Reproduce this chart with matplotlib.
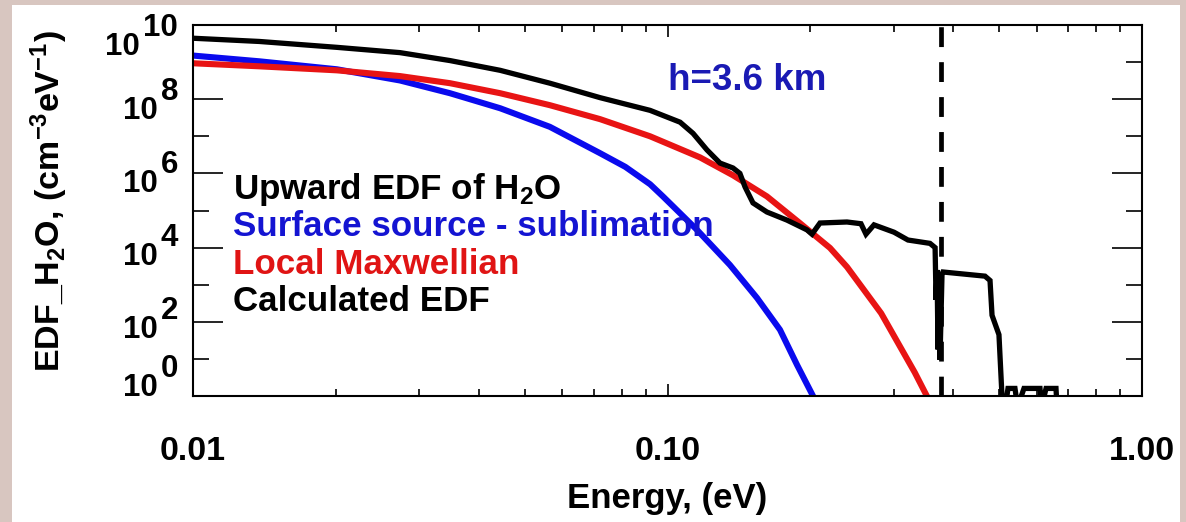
import matplotlib
matplotlib.use("Agg")
import matplotlib.pyplot as plt
import matplotlib.transforms as mtransforms
from matplotlib.patches import Rectangle
from matplotlib.ticker import FixedLocator, FixedFormatter, NullFormatter

# ---- data (energy in eV, EDF in cm^-3 eV^-1) ----
energy_surface = [0.0100, 0.0138, 0.0201, 0.0273, 0.0348, 0.0444, 0.0565, 0.0721,
                  0.0815, 0.0919, 0.0978, 0.1027, 0.1154, 0.1354, 0.1544, 0.1726,
                  0.1875, 0.2026, 0.2100]
edf_surface = [1.5e9, 1.05e9, 6.4e8, 3.2e8, 1.45e8, 5.7e7, 1.8e7, 3.5e6,
               1.5e6, 5.1e5, 2.4e5, 1.3e5, 3.0e4, 3.4e3, 4.4e2, 61,
               6.9, 1.0, 0.4]

energy_maxw = [0.0100, 0.0138, 0.0201, 0.0273, 0.0348, 0.0444, 0.0565, 0.0721,
               0.0919, 0.1171, 0.1374, 0.1620, 0.1900, 0.2200, 0.2390, 0.2820,
               0.3320, 0.3520, 0.3600]
edf_maxw = [9.3e8, 7.7e8, 6.0e8, 4.2e8, 2.7e8, 1.45e8, 6.9e7, 2.9e7,
            1.0e7, 2.7e6, 8.9e5, 2.4e5, 4.6e4, 9.8e3, 3.0e3, 1.7e2,
            4.3, 1.0, 0.5]

energy_calc = [0.0100, 0.0138, 0.0201, 0.0273, 0.0348, 0.0444, 0.0565, 0.0721,
               0.0919, 0.1063, 0.1132, 0.1211, 0.1290, 0.1374, 0.1421, 0.1457,
               0.1514, 0.1620, 0.1786, 0.1968, 0.2016, 0.2096, 0.2389, 0.2557,
               0.2620, 0.2724, 0.3002, 0.3212, 0.3574, 0.3664, 0.3681, 0.3699,
               0.3716, 0.3734, 0.3752, 0.3789, 0.3807, 0.4668, 0.4783, 0.4830,
               0.4995, 0.5070, 0.5120, 0.5219, 0.5399, 0.5441, 0.5534, 0.5640,
               0.6096, 0.6141, 0.6277, 0.6588, 0.6635]
edf_calc = [4.4e9, 3.6e9, 2.5e9, 1.8e9, 1.1e9, 6.0e8, 2.7e8, 1.1e8,
            5.0e7, 2.4e7, 1.2e7, 4.3e6, 1.9e6, 1.4e6, 1.0e6, 4.3e5,
            1.6e5, 9.1e4, 5.5e4, 3.0e4, 2.3e4, 4.6e4, 4.9e4, 4.4e4,
            2.3e4, 4.1e4, 2.6e4, 1.6e4, 1.3e4, 1.0e4, 3.9e2, 2.5e3,
            18, 3.9e2, 9.5, 1.9e3, 2.2e3, 1.7e3, 1.3e3, 1.5e2,
            45, 0.95, 0.3, 1.6, 1.6, 0.8, 0.8, 1.6,
            1.6, 0.5, 1.6, 1.6, 0.3]

cutoff_energy = 0.377

x_ticks = [0.01, 0.1, 1.0]
x_ticklabels = ["0.01", "0.10", "1.00"]
y_exponents = [0, 2, 4, 6, 8, 10]

labels = ["Upward EDF of H$_2$O", "Surface source - sublimation",
          "Local Maxwellian", "Calculated EDF"]
label_colors = ["#000000", "#1414d2", "#e01414", "#000000"]

# ---- styling ----
plt.rcParams['font.family'] = ['Liberation Sans', 'DejaVu Sans']
plt.rcParams['font.weight'] = 'bold'
plt.rcParams['axes.labelweight'] = 'bold'
plt.rcParams['mathtext.fontset'] = 'custom'
plt.rcParams['mathtext.rm'] = 'Liberation Sans:bold'
plt.rcParams['mathtext.it'] = 'Liberation Sans:bold'
plt.rcParams['mathtext.bf'] = 'Liberation Sans:bold'
plt.rcParams['mathtext.default'] = 'regular'

W, H = 1186, 522
fig = plt.figure(figsize=(W / 100, H / 100), dpi=100, facecolor="#d8c6c0")
fig.add_artist(Rectangle((12 / W, 0), (1180 - 12) / W, (H - 5) / H,
                         transform=fig.transFigure, facecolor="white",
                         edgecolor="none", zorder=0))
ax = fig.add_axes([193 / W, 1 - 396 / H, 949 / W, 371 / H])

ax.plot(energy_surface, edf_surface, color="#0a0aee", lw=4.4, solid_capstyle="butt")
ax.plot(energy_maxw, edf_maxw, color="#e81414", lw=4.4, solid_capstyle="butt")
ax.plot(energy_calc, edf_calc, color="black", lw=3.8, solid_joinstyle="miter")
ax.axvline(cutoff_energy, color="black", lw=3.4, dashes=(4.2, 3.2))

ax.set_xscale("log")
ax.set_yscale("log")
ax.set_xlim(0.01, 1.0)
ax.set_ylim(1.0, 1e10)

for s in ax.spines.values():
    s.set_linewidth(1.5)

ax.xaxis.set_major_locator(FixedLocator(x_ticks))
ax.xaxis.set_major_formatter(FixedFormatter(x_ticklabels))
ax.xaxis.set_minor_formatter(NullFormatter())
ax.yaxis.set_major_locator(FixedLocator([10.0 ** e for e in y_exponents]))
ax.yaxis.set_minor_locator(FixedLocator([10.0 ** (e + 1) for e in y_exponents[:-1]]))
ax.yaxis.set_major_formatter(NullFormatter())
ax.yaxis.set_minor_formatter(NullFormatter())

ax.tick_params(axis="x", which="both", direction="in", top=True, bottom=True,
               width=1.2, labelsize=24.5, pad=28.5)
ax.tick_params(axis="x", which="major", length=8.5)
ax.tick_params(axis="x", which="minor", length=5)
ax.tick_params(axis="y", which="both", direction="in", left=True, right=True, width=1.2)
ax.tick_params(axis="y", which="major", length=21.5)
ax.tick_params(axis="y", which="minor", length=11.5)

# IDL style y labels: full size exponent raised beside the "10"
ylab_trans = mtransforms.blended_transform_factory(ax.transAxes, ax.transData)
base_dy = [-11, 5, 6, 8, 8.5, 19]
for e, dy in zip(y_exponents, base_dy):
    nd = len(str(e))
    off_e = mtransforms.ScaledTranslation(-15 / 100, -(dy - 19 + 11) / 100, fig.dpi_scale_trans)
    ax.text(0, 10.0 ** e, str(e), transform=ylab_trans + off_e, ha="right",
            va="baseline", fontsize=22.5, clip_on=False)
    off_b = mtransforms.ScaledTranslation(-(18 + 17.4 * nd) / 100, -(dy + 11) / 100,
                                          fig.dpi_scale_trans)
    ax.text(0, 10.0 ** e, "10", transform=ylab_trans + off_b, ha="right",
            va="baseline", fontsize=22.5, clip_on=False)

ax.set_xlabel("Energy, (eV)", fontsize=25)
ax.xaxis.set_label_coords(0.5, -0.232)
ax.set_ylabel("EDF_H$_2$O, (cm$^{-3}$eV$^{-1}$)", fontsize=24.5)
ax.yaxis.set_label_coords(-0.13, 0.526)

label_y = [0.531, 0.431, 0.330, 0.229]
for txt, c, yy in zip(labels, label_colors, label_y):
    ax.text(0.042, yy, txt, color=c, fontsize=25.2, transform=ax.transAxes, va="baseline")

ax.text(0.5005, 0.825, "h=3.6 km", color="#1a1ab4", fontsize=26.5,
        transform=ax.transAxes, va="baseline")

fig.savefig("out.png", dpi=100, facecolor=fig.get_facecolor())
